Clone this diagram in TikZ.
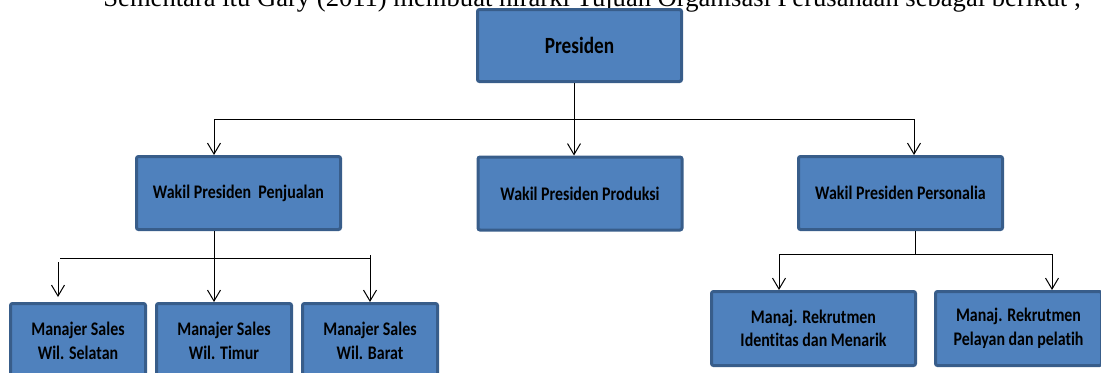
\documentclass[tikz,border=0pt]{standalone}
\usepackage{fontspec}
\setmainfont{Carlito}[FakeStretch=0.83, Ligatures=NoCommon]
\newfontfamily\hdrfont{Liberation Serif}
\usetikzlibrary{arrows.meta}
\definecolor{boxfill}{HTML}{4F81BD}
\definecolor{boxline}{HTML}{385D8A}
\begin{document}
\begin{tikzpicture}[x=0.5pt,y=-0.5pt,
  orgbox/.style={draw=boxline, line width=1.5pt, fill=boxfill, rounded corners=1pt,
    font=\bfseries\fontsize{9.6}{11.8}\selectfont, align=center, inner sep=0pt,
    minimum width=102pt, minimum height=36.5pt},
  smallbox/.style={orgbox, minimum width=67.5pt, minimum height=37.5pt},
  conn/.style={line width=0.5pt, draw=black},
  arr/.style={conn, -{Straight Barb[length=5.5pt,width=6.5pt]}}]
\useasboundingbox (0,0) rectangle (1101,372);
% header line (cut at the top)
\node[anchor=base west, inner sep=0pt, font=\hdrfont\fontsize{13.3}{15}\selectfont] (hdr) at (103,6.5)
  {Sementara itu Gary (2011) membuat hirarki Tujuan Organisasi Perusahaan sebagai berikut ;};
% boxes
\node[orgbox, minimum height=36pt, font=\bfseries\fontsize{11.6}{14}\selectfont] (pres) at (579.5,45.5) {Presiden};
\node[orgbox] (penj) at (238.5,193) {Wakil Presiden\ \ Penjualan};
\node[orgbox] (prod) at (580,193.5) {Wakil Presiden Produksi};
\node[orgbox] (pers) at (900.5,193) {Wakil Presiden Personalia};
\node[smallbox] (sel) at (78,341) {Manajer Sales\\Wil. Selatan};
\node[smallbox] (tim) at (224,341) {Manajer Sales\\Wil. Timur};
\node[smallbox] (bar) at (370,341) {Manajer Sales\\Wil. Barat};
\node[orgbox, minimum height=37pt] (ide) at (813.5,328.5) {Manaj. Rekrutmen\\Identitas dan Menarik};
\node[orgbox, minimum height=37pt, minimum width=83pt] (pel) at (1018.5,328.5) {Manaj. Rekrutmen\\Pelayan dan pelatih};
% level 1 connectors
\coordinate (h1L) at (214,119);
\coordinate (h1M) at (574,119);
\coordinate (h1R) at (914,119);
\draw[conn] (pres.south -| h1M) -- (h1M);
\draw[conn] (h1L) -- (h1R);
\draw[arr] (h1L) -- (penj.north -| h1L);
\draw[arr] (h1M) -- (prod.north -| h1M);
\draw[arr] (h1R) -- (pers.north -| h1R);
% level 2 left
\coordinate (h2L) at (60,258);
\coordinate (h2M) at (214,258);
\coordinate (h2R) at (371,258);
\coordinate (a2L) at (58,262);
\coordinate (a2R) at (370,255);
\draw[conn] (penj.south -| h2M) -- (h2M);
\draw[conn] (h2L) -- (h2R);
\draw[arr, shorten >=2.5pt] (a2L) -- (sel.north -| a2L);
\draw[arr] (h2M) -- (tim.north -| h2M);
\draw[arr] (a2R) -- (bar.north -| a2R);
% level 2 right
\coordinate (h3L) at (779,254);
\coordinate (h3M) at (915,254);
\coordinate (h3R) at (1052,254);
\draw[conn] (pers.south -| h3M) -- (h3M);
\draw[conn] (h3L) -- (h3R);
\draw[arr] (h3L) -- (ide.north -| h3L);
\draw[arr] (h3R) -- (pel.north -| h3R);
\end{tikzpicture}
\end{document}
